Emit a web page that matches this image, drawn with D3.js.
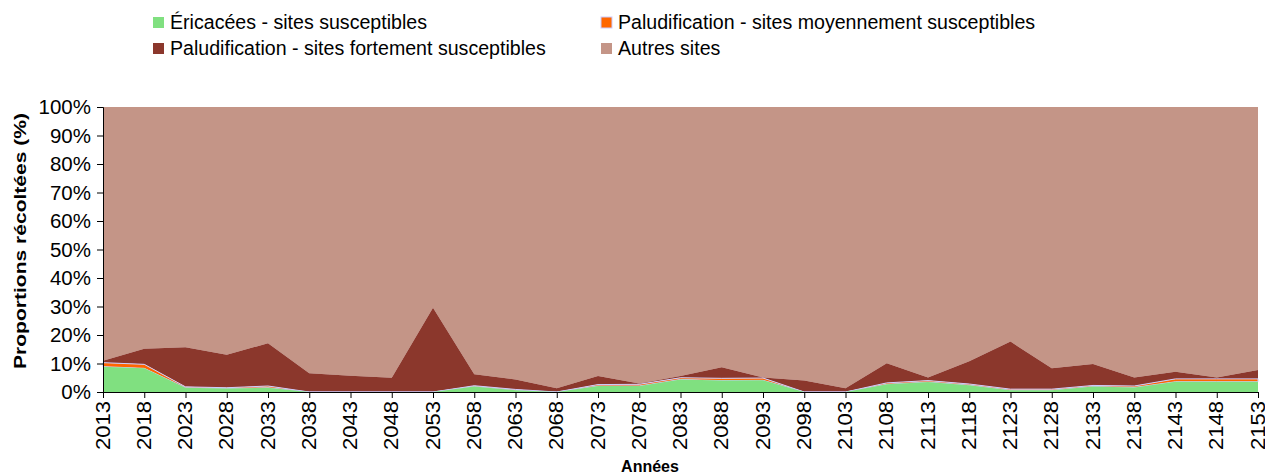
<!DOCTYPE html>
<html>
<head>
<meta charset="utf-8">
<script src="https://cdn.jsdelivr.net/npm/d3@7"></script>
<style>
  body { margin: 0; background: #fff; }
  text { font-family: "Liberation Sans", Arial, sans-serif; fill: #000; }
</style>
</head>
<body>
<div id="chart"></div>
<script>
// data (percent of harvest)
let years = [2013, 2018, 2023, 2028, 2033, 2038, 2043, 2048, 2053, 2058, 2063, 2068, 2073, 2078, 2083,
  2088, 2093, 2098, 2103, 2108, 2113, 2118, 2123, 2128, 2133, 2138, 2143, 2148, 2153];

let ericacees = [8.9, 8.3, 1.5, 1.2, 1.5, 0, 0, 0, 0, 1.9, 0.6, 0, 2.1, 2.1, 4.4,
  4.0, 4.1, 0, 0, 2.7, 3.5, 2.4, 0.6, 0.6, 1.9, 1.6, 3.6, 3.6, 3.6];
let moyen = [1.4, 1.4, 0.3, 0.3, 0.6, 0, 0, 0, 0, 0.3, 0.3, 0, 0.5, 0.6, 0.6,
  0.8, 0.8, 0, 0, 0.5, 0.5, 0.4, 0.4, 0.4, 0.4, 0.5, 1.0, 1.0, 1.0];
let fortement = [0.7, 5.5, 13.9, 11.6, 15.0, 6.6, 5.7, 5.0, 29.6, 4.0, 3.5, 1.3, 3.0, 0.3, 0.6,
  3.9, 0.2, 4.0, 1.3, 6.9, 1.1, 8.0, 16.7, 7.3, 7.5, 3.0, 2.5, 0.5, 3.1];
let autres = [89.0, 84.8, 84.3, 86.9, 82.9, 93.4, 94.3, 95.0, 70.4, 93.8, 95.6, 98.7, 94.4, 97.0, 94.4,
  91.3, 94.9, 96.0, 98.7, 89.9, 94.9, 89.2, 82.3, 91.7, 90.2, 94.9, 92.9, 94.9, 92.3];

let seriesNames = ["Éricacées - sites susceptibles",
  "Paludification - sites moyennement susceptibles",
  "Paludification - sites fortement susceptibles",
  "Autres sites"];
let seriesColors = ["#80e080", "#ff6600", "#8b372c", "#c49587"];
let seriesStrokes = ["none", "#ccccff", "none", "none"];
let keys = ["eri", "moy", "fort", "aut"];

let svgWidth = 1265;
let svgHeight = 475;
let margin = { top: 107, right: 7, bottom: 83, left: 103 };
let width = svgWidth - margin.left - margin.right;
let height = svgHeight - margin.top - margin.bottom;

let svg = d3.select("#chart")
  .append("svg")
  .attr("width", svgWidth)
  .attr("height", svgHeight);

let chartGroup = svg.append("g")
  .attr("transform", `translate(${margin.left}, ${margin.top})`);

// build rows for the stack
let rows = years.map((y, i) => ({
  year: y, eri: ericacees[i], moy: moyen[i], fort: fortement[i], aut: autres[i]
}));

let stacked = d3.stack()
  .keys(keys)
  .offset(d3.stackOffsetExpand)(rows);

let xScale = d3.scaleLinear()
  .domain([years[0], years[years.length - 1]])
  .range([0, width]);

let yScale = d3.scaleLinear()
  .domain([0, 1])
  .range([height, 0]);

let area = d3.area()
  .x(d => xScale(d.data.year))
  .y0(d => yScale(d[0]))
  .y1(d => yScale(d[1]));

// draw top series first so thin bands stay visible
chartGroup.selectAll("path.layer")
  .data(stacked.slice().reverse())
  .enter()
  .append("path")
  .attr("class", "layer")
  .attr("d", area)
  .attr("fill", d => seriesColors[d.index])
  .attr("stroke", d => seriesStrokes[d.index])
  .attr("stroke-width", 1);

// axes
let leftAxis = d3.axisLeft(yScale)
  .tickValues(d3.range(0, 1.01, 0.1))
  .tickFormat(d3.format(".0%"))
  .tickSize(6)
  .tickPadding(6);

let bottomAxis = d3.axisBottom(xScale)
  .tickValues(years)
  .tickFormat(d3.format("d"))
  .tickSize(6);

let yAxisG = chartGroup.append("g").call(leftAxis);
yAxisG.select(".domain").attr("stroke", "#000");
yAxisG.selectAll("text").style("font-size", "20.5px");

let xAxisG = chartGroup.append("g")
  .attr("transform", `translate(0, ${height})`)
  .call(bottomAxis);
xAxisG.select(".domain").attr("stroke", "#000");
// Excel-style labels are a little stretched along the text direction
xAxisG.selectAll("text")
  .style("font-size", "20px")
  .attr("text-anchor", "end")
  .attr("transform", "rotate(-90)")
  .attr("x", -9)
  .attr("y", 0)
  .attr("dy", "0.3em")
  .attr("textLength", 49)
  .attr("lengthAdjust", "spacingAndGlyphs");

// axis titles
svg.append("text")
  .attr("x", 650)
  .attr("y", 472)
  .attr("text-anchor", "middle")
  .style("font-size", "16px")
  .style("font-weight", "bold")
  .text("Années");

svg.append("text")
  .attr("transform", "rotate(-90)")
  .attr("x", -241)
  .attr("y", 26)
  .attr("text-anchor", "middle")
  .style("font-size", "16.5px")
  .style("font-weight", "bold")
  .attr("textLength", 256)
  .attr("lengthAdjust", "spacingAndGlyphs")
  .text("Proportions récoltées (%)");

// legend
let legendPos = [[153, 22], [601, 22], [153, 48], [601, 48]];
let legend = svg.selectAll("g.legend")
  .data(seriesNames)
  .enter()
  .append("g")
  .attr("class", "legend")
  .attr("transform", (d, i) => `translate(${legendPos[i][0]}, ${legendPos[i][1]})`);

legend.append("rect")
  .attr("x", 0)
  .attr("y", -5)
  .attr("width", 11)
  .attr("height", 11)
  .attr("fill", (d, i) => seriesColors[i])
  .attr("stroke", (d, i) => seriesStrokes[i])
  .attr("stroke-width", 1);

legend.append("text")
  .attr("x", 17)
  .attr("y", 0)
  .attr("dy", "0.35em")
  .style("font-size", "19.6px")
  .text(d => d);
</script>
</body>
</html>
